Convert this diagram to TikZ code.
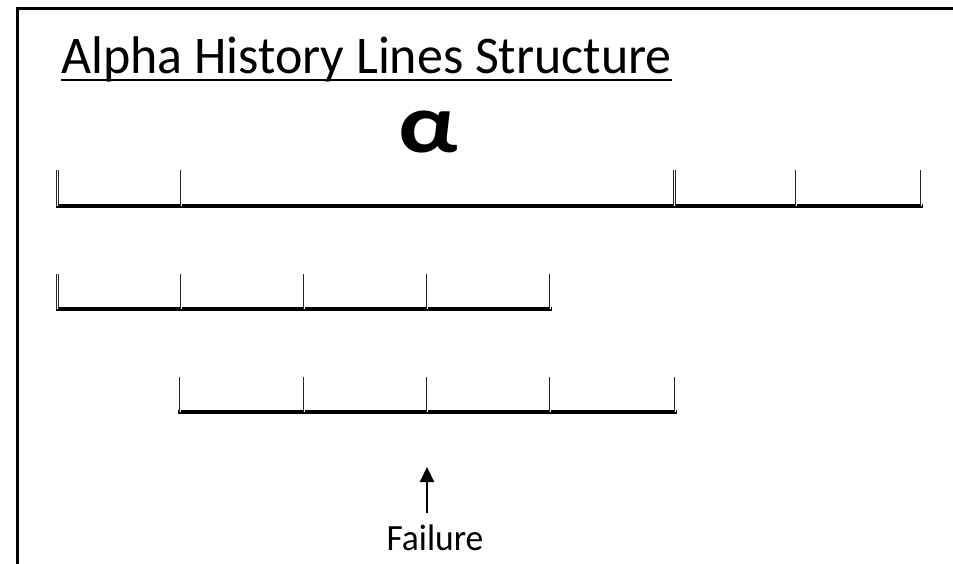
\documentclass[tikz,border=0pt]{standalone}
\usepackage{fontspec}
\setmainfont{Carlito}
\usetikzlibrary{arrows.meta}
\begin{document}
\begin{tikzpicture}[x=1pt,y=-1pt,
  frameline/.style={line width=3pt, black},
  baseline/.style={line width=4pt, black},
  tickmark/.style={line width=0.8pt, black!85, double=white, double distance=0.7pt},
  arrowline/.style={line width=2.2pt, -{Triangle[length=15pt,width=14pt]}},
  txt/.style={inner sep=0pt, font=\fontsize{53}{60}\selectfont}]
\useasboundingbox (0,0) rectangle (953,563);
\fill[white] (0,0) rectangle (953,563);
% frame (left and top edges)
\coordinate (fbl) at (17.5,570);
\coordinate (ftl) at (17.5,8.5);
\coordinate (ftr) at (960,8.5);
\draw[frameline] (fbl) -- (ftl) -- (ftr);
% title
\node[txt, anchor=base west, xscale=0.98] (title) at (61,73) {Alpha History Lines Structure};
\draw[line width=2pt] ([yshift=-7pt]title.base west) -- ([yshift=-7pt]title.base east);
% alpha
\node[inner sep=0pt, font=\fontsize{84}{90}\selectfont\bfseries, xscale=1.2] (alpha) at (428,132) {α};
% row 1
\coordinate (r1s) at (56,206); \coordinate (r1e) at (923,206);
\draw[baseline] (r1s) -- (r1e);
\foreach \x in {57.5,181,674.5,796,921}{\draw[tickmark] (\x,170) -- (\x,206);}
% row 2
\coordinate (r2s) at (56,309); \coordinate (r2e) at (552,309);
\draw[baseline] (r2s) -- (r2e);
\foreach \x in {57.5,181,304,427,550}{\draw[tickmark] (\x,274) -- (\x,309);}
% row 3
\coordinate (r3s) at (178,412); \coordinate (r3e) at (677,412);
\draw[baseline] (r3s) -- (r3e);
\foreach \x in {180,304,427,550,675}{\draw[tickmark] (\x,377) -- (\x,412);}
% failure arrow
\node[inner sep=0pt, anchor=base, font=\fontsize{37}{42}\selectfont, xscale=0.96] (fail) at (435,550) {Failure};
\coordinate (atail) at (427,513);
\coordinate (atip) at (427,467);
\draw[arrowline] (atail) -- (atip);
\end{tikzpicture}
\end{document}
